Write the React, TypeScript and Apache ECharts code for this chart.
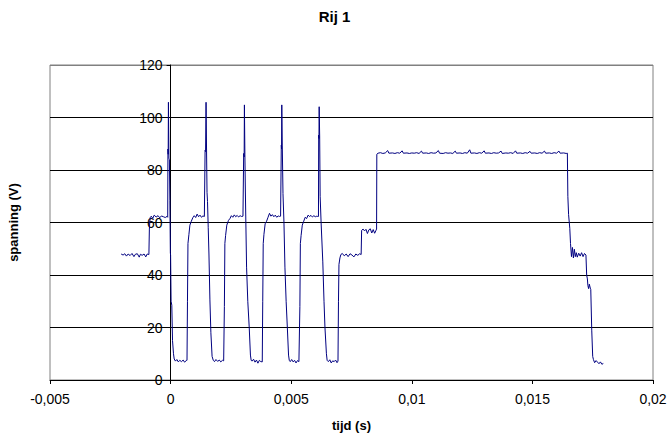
import React, { useEffect, useRef } from "react";
import * as echarts from "echarts";

// time in milliseconds, voltage in volts
const aanloop: number[][] = [
  [-2.05, 48.0], [-1.97, 47.6], [-1.9, 48.1], [-1.83, 47.2], [-1.76, 48.0], [-1.68, 47.4],
  [-1.6, 48.2], [-1.52, 47.0], [-1.46, 47.9], [-1.38, 48.1], [-1.3, 46.8], [-1.25, 47.9],
  [-1.18, 47.5], [-1.1, 48.0], [-1.03, 46.9], [-0.97, 48.0], [-0.9, 47.8],
  [-0.88, 57.5], [-0.86, 60.5], [-0.84, 62.0], [-0.8, 62.4], [-0.74, 61.6], [-0.68, 62.8],
  [-0.6, 62.1], [-0.52, 62.6], [-0.45, 61.8], [-0.38, 62.5], [-0.3, 62.2], [-0.22, 61.9],
  [-0.15, 62.3],
];

const puls1: number[][] = [
  [-0.12, 62.0], [-0.11, 88.0], [-0.1, 86.0], [-0.09, 105.8], [-0.07, 84.5], [-0.05, 84.0],
  [-0.03, 68.5], [-0.01, 48.5], [0.0, 47.5], [0.02, 30.0], [0.05, 28.5], [0.08, 15.0],
  [0.12, 10.0], [0.15, 8.0], [0.2, 7.2], [0.26, 7.8], [0.32, 6.9], [0.38, 7.5], [0.45, 7.0],
  [0.52, 7.6], [0.58, 6.8], [0.65, 7.4], [0.68, 7.5], [0.7, 30.0], [0.72, 52.0], [0.76, 55.5],
  [0.8, 59.0], [0.86, 60.5], [0.92, 61.8], [0.98, 62.6], [1.04, 61.9], [1.1, 63.2], [1.16, 62.2],
  [1.22, 62.8], [1.28, 62.0], [1.34, 62.5], [1.4, 62.3],
];

const puls2: number[][] = [
  [1.42, 62.2], [1.43, 87.5], [1.45, 87.0], [1.47, 105.8], [1.49, 88.0], [1.51, 71.5],
  [1.53, 68.0], [1.56, 58.0], [1.59, 48.0], [1.63, 30.5], [1.67, 18.0], [1.72, 9.0], [1.77, 7.5],
  [1.82, 7.0], [1.88, 7.8], [1.95, 7.1], [2.02, 7.6], [2.08, 6.9], [2.15, 7.5], [2.2, 7.3],
  [2.23, 28.0], [2.25, 52.0], [2.28, 55.0], [2.33, 59.0], [2.4, 60.8], [2.46, 61.5], [2.52, 62.6],
  [2.58, 62.0], [2.64, 62.9], [2.7, 62.2], [2.76, 62.7], [2.82, 62.1], [2.88, 62.6], [2.94, 62.3],
  [3.0, 62.4],
];

const puls3: number[][] = [
  [3.02, 62.3], [3.03, 86.3], [3.05, 85.0], [3.06, 104.8], [3.08, 86.0], [3.1, 72.0],
  [3.12, 60.0], [3.15, 43.0], [3.2, 30.0], [3.26, 20.0], [3.31, 9.5], [3.34, 7.5],
  [3.38, 7.2], [3.44, 7.9], [3.5, 6.8], [3.56, 7.6], [3.62, 6.4], [3.68, 7.5], [3.74, 7.0],
  [3.8, 6.9], [3.82, 30.0], [3.84, 52.0], [3.87, 55.5], [3.92, 59.5], [3.98, 60.5], [4.04, 62.0],
  [4.1, 63.5], [4.16, 62.4], [4.22, 63.0], [4.28, 62.2], [4.34, 62.8], [4.4, 62.0], [4.46, 62.5],
  [4.52, 62.3], [4.56, 62.4],
];

const puls4: number[][] = [
  [4.58, 62.3], [4.59, 89.5], [4.6, 88.0], [4.61, 104.8], [4.63, 89.5], [4.66, 71.0],
  [4.7, 60.0], [4.74, 43.0], [4.79, 30.0], [4.84, 20.0], [4.89, 9.5], [4.92, 7.5],
  [4.96, 7.0], [5.02, 7.8], [5.08, 6.9], [5.14, 7.5], [5.2, 6.5], [5.26, 7.4], [5.32, 7.0],
  [5.36, 28.0], [5.38, 52.0], [5.41, 55.0], [5.46, 59.0], [5.52, 60.5], [5.58, 62.0], [5.64, 61.5],
  [5.7, 62.8], [5.76, 62.3], [5.82, 62.7], [5.88, 62.1], [5.94, 62.6], [6.0, 62.2], [6.06, 62.4],
  [6.1, 62.3],
];

const puls5: number[][] = [
  [6.13, 62.3], [6.14, 93.3], [6.15, 92.0], [6.16, 104.1], [6.18, 93.0], [6.2, 70.0],
  [6.24, 60.0], [6.31, 45.0], [6.36, 30.0], [6.4, 20.0], [6.46, 10.0], [6.49, 7.5],
  [6.54, 7.0], [6.6, 7.7], [6.66, 6.5], [6.72, 7.3], [6.78, 7.0], [6.84, 7.6], [6.9, 6.6],
  [6.94, 7.2], [6.96, 30.0], [6.98, 44.0], [7.02, 46.5], [7.06, 47.8],
];

const trap: number[][] = [
  [7.12, 48.2], [7.2, 47.3], [7.28, 48.0], [7.36, 47.0], [7.44, 48.1], [7.52, 47.6],
  [7.6, 46.9], [7.68, 48.0], [7.76, 47.5], [7.84, 48.1], [7.9, 47.8],
  [7.92, 57.0], [7.98, 57.5], [8.04, 56.8], [8.1, 57.4], [8.16, 55.8], [8.22, 57.2],
  [8.28, 57.6], [8.34, 56.0], [8.4, 57.3], [8.46, 55.9], [8.52, 57.1], [8.54, 57.5],
];

const plateau: number[][] = [
  [8.55, 86.0], [8.6, 86.4], [8.7, 86.6], [8.8, 86.3], [8.9, 86.5], [9.0, 87.4], [9.05, 86.4],
  [9.2, 86.5], [9.3, 86.3], [9.4, 86.6], [9.5, 86.4], [9.6, 87.3], [9.65, 86.4], [9.8, 86.5],
  [9.9, 86.3], [10.0, 86.5], [10.1, 86.4], [10.2, 86.6], [10.3, 86.3], [10.4, 87.2], [10.45, 86.4],
  [10.6, 86.5], [10.7, 86.3], [10.8, 86.6], [10.9, 86.4], [11.0, 86.5], [11.1, 87.4], [11.15, 86.4],
  [11.3, 86.3], [11.4, 86.6], [11.5, 86.4], [11.6, 86.5], [11.7, 86.3], [11.8, 87.2], [11.85, 86.4],
  [12.0, 86.5], [12.1, 86.3], [12.2, 86.6], [12.3, 86.4], [12.4, 87.7], [12.45, 86.4], [12.6, 86.5],
  [12.7, 86.3], [12.8, 86.6], [12.9, 86.4], [13.0, 87.3], [13.05, 86.4], [13.2, 86.5], [13.3, 86.3],
  [13.4, 86.6], [13.5, 86.4], [13.6, 86.5], [13.7, 87.2], [13.75, 86.3], [13.9, 86.5], [14.0, 86.4],
  [14.1, 86.6], [14.2, 86.3], [14.3, 87.3], [14.35, 86.4], [14.5, 86.5], [14.6, 86.3], [14.7, 86.6],
  [14.8, 86.4], [14.9, 87.1], [14.95, 86.4], [15.1, 86.5], [15.2, 86.3], [15.3, 86.6], [15.4, 86.4],
  [15.5, 87.2], [15.55, 86.4], [15.7, 86.5], [15.8, 86.3], [15.9, 86.6], [16.0, 86.4], [16.1, 87.2],
  [16.15, 86.4], [16.3, 86.5], [16.4, 86.3], [16.45, 86.4],
];

const afloop: number[][] = [
  [16.47, 70.0], [16.5, 63.0], [16.55, 57.8], [16.58, 52.0], [16.62, 47.0], [16.66, 50.5],
  [16.7, 46.5], [16.74, 49.8], [16.78, 47.0], [16.82, 48.5], [16.86, 46.8], [16.92, 48.3],
  [16.98, 47.2], [17.04, 48.5], [17.1, 47.0], [17.16, 48.2], [17.22, 47.6], [17.25, 40.0],
  [17.28, 38.5], [17.3, 36.0], [17.33, 34.8], [17.36, 36.5], [17.4, 35.0], [17.42, 34.5],
  [17.46, 19.0], [17.5, 9.0], [17.53, 7.8], [17.58, 6.6], [17.64, 7.4], [17.7, 6.8],
  [17.76, 6.2], [17.82, 6.9], [17.88, 6.0], [17.94, 6.3],
];

const xTicks = { min: -0.005, max: 0.02, interval: 0.005 };
const yTicks = { min: 0, max: 120, interval: 20 };

const FONT = "Liberation Sans";
const GRID = { left: 50, top: 65, right: 16, bottom: 58, width: 669 };

export default function App() {
  const ref = useRef<HTMLDivElement>(null);

  useEffect(() => {
    if (!ref.current) return;
    const chart = echarts.init(ref.current, undefined, { renderer: "svg" });
    const data = [aanloop, puls1, puls2, puls3, puls4, puls5, trap, plateau, afloop]
      .flat()
      .map(([ms, v]) => [ms / 1000, v]);

    // place the value axis where time = 0 (axis crossing), like the original
    const plotW = GRID.width - GRID.left - GRID.right;
    const zeroShift = ((0 - xTicks.min) / (xTicks.max - xTicks.min)) * plotW;

    chart.setOption({
      animation: false,
      backgroundColor: "#ffffff",
      title: {
        text: "Rij 1",
        left: "center",
        top: 4,
        textStyle: { fontFamily: FONT, fontSize: 15, fontWeight: "bold", color: "#000" },
      },
      grid: {
        left: GRID.left,
        top: GRID.top,
        right: GRID.right,
        bottom: GRID.bottom,
        containLabel: false,
        outerBoundsMode: "none",
        show: true,
        borderColor: "#808080",
        borderWidth: 1,
        backgroundColor: "transparent",
      },
      xAxis: {
        type: "value",
        min: xTicks.min,
        max: xTicks.max,
        interval: xTicks.interval,
        name: "tijd (s)",
        nameLocation: "middle",
        nameGap: 39,
        nameTextStyle: { fontFamily: FONT, fontSize: 13, fontWeight: "bold", color: "#000" },
        axisLine: { show: true, lineStyle: { color: "#000", width: 1 } },
        axisTick: { show: true, length: 4, lineStyle: { color: "#000" } },
        axisLabel: {
          margin: 12,
          fontFamily: FONT,
          fontSize: 14,
          color: "#000",
          formatter: (v: number) => String(v).replace(".", ","),
        },
        splitLine: { show: false },
      },
      yAxis: {
        type: "value",
        min: yTicks.min,
        max: yTicks.max,
        interval: yTicks.interval,
        offset: -zeroShift,
        name: "spanning (V)",
        nameLocation: "middle",
        nameGap: 151,
        nameRotate: 90,
        nameTextStyle: { fontFamily: FONT, fontSize: 13, fontWeight: "bold", color: "#000" },
        axisLine: { show: true, onZero: false, lineStyle: { color: "#000", width: 1 } },
        axisTick: { show: true, length: 4, lineStyle: { color: "#000" } },
        axisLabel: { margin: 8, fontFamily: FONT, fontSize: 14, color: "#000" },
        splitLine: {
          show: true,
          lineStyle: {
            color: ["#000", "#000", "#000", "#000", "#000", "#000", "#808080"],
            width: 1,
          },
        },
      },
      series: [
        {
          type: "line",
          data,
          symbol: "none",
          showSymbol: false,
          silent: true,
          lineStyle: { color: "#000080", width: 1 },
        },
      ],
    });
    return () => chart.dispose();
  }, []);

  return (
    <div
      ref={ref}
      style={{ position: "fixed", left: 0, top: 0, width: 669, height: 438, background: "#fff" }}
    />
  );
}
